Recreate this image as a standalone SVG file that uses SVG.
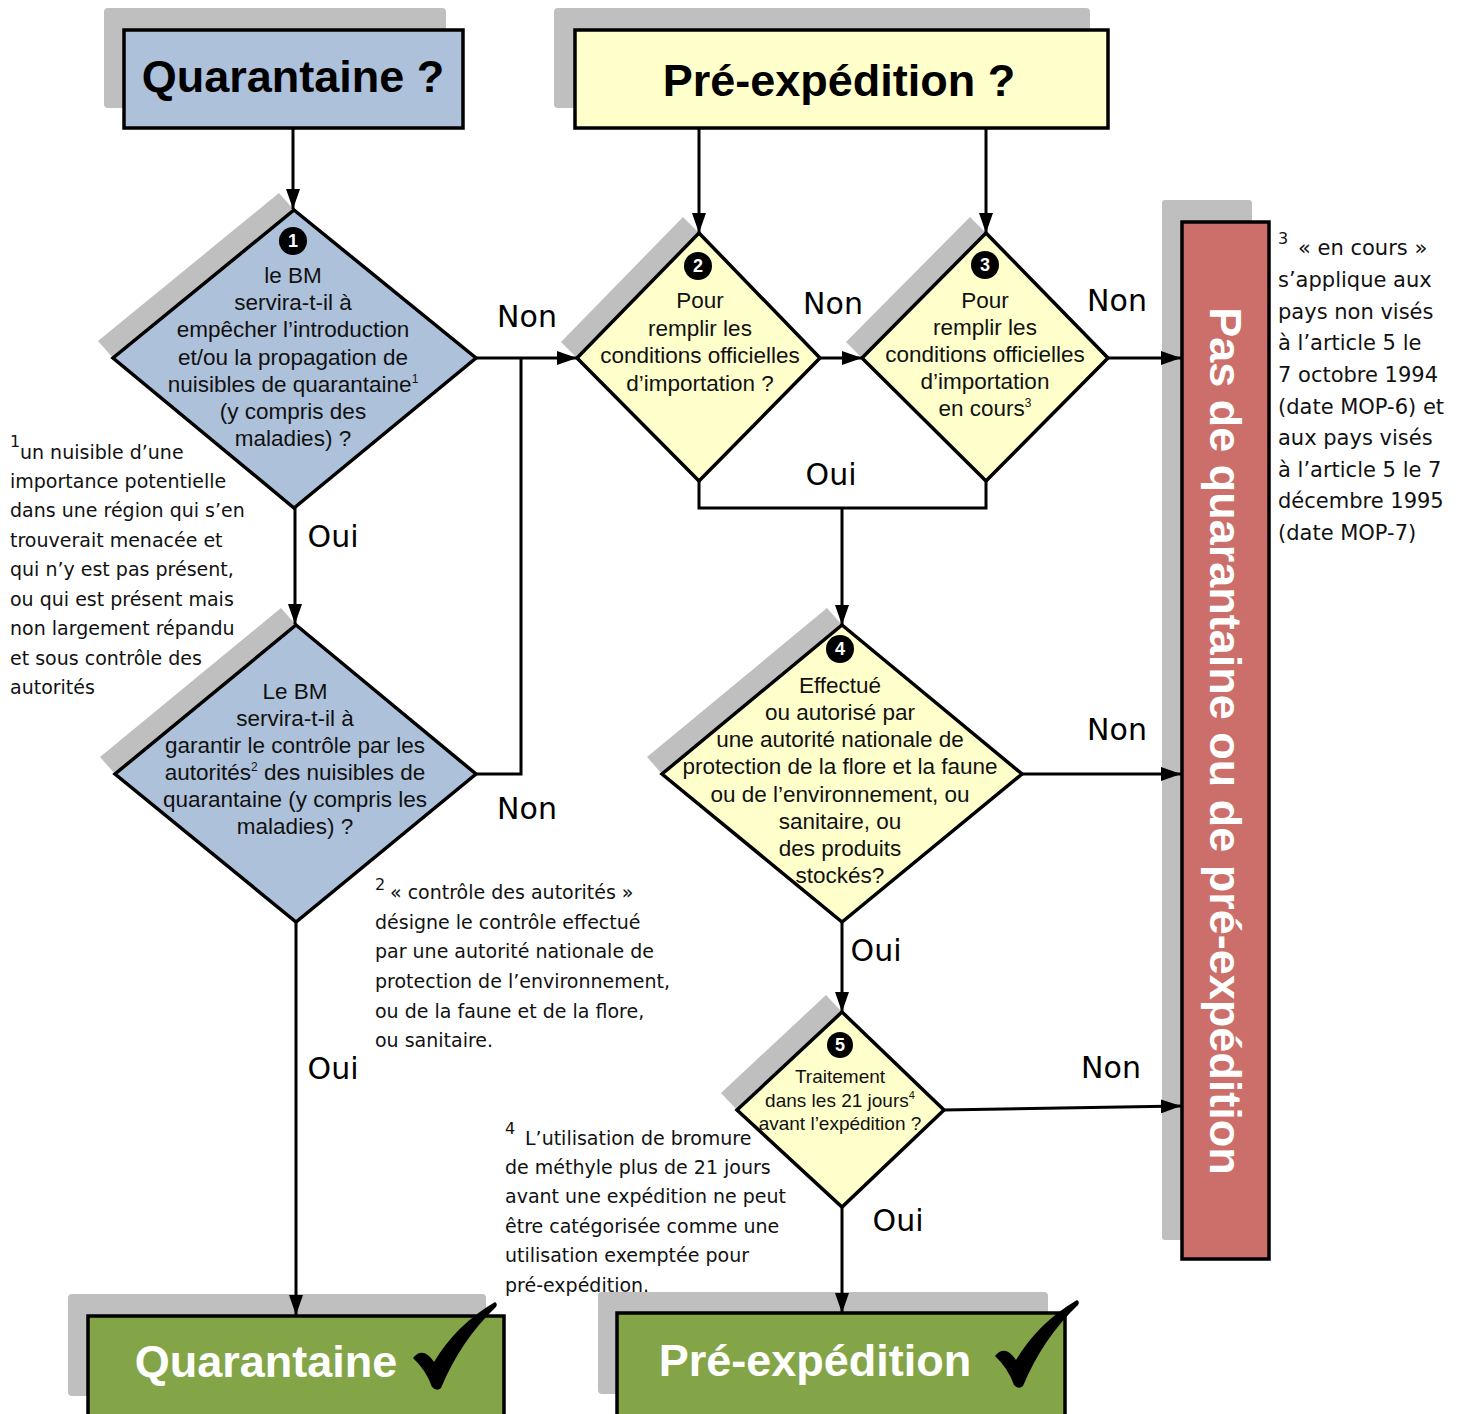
<svg xmlns="http://www.w3.org/2000/svg" width="1464" height="1414" viewBox="0 0 1464 1414">
<defs>
<style>
.sh{fill:#bfbfbf}
.blue{fill:#adc1da;stroke:#000;stroke-width:3.5}
.yel{fill:#ffffcc;stroke:#000;stroke-width:3.5}
.grn{fill:#84a547;stroke:#000;stroke-width:3.5}
.red{fill:#cc6f6a;stroke:#000;stroke-width:3.5}
.dt{font-family:"Liberation Sans",Arial,sans-serif;font-size:22.5px;fill:#111;text-anchor:middle}
.dt5{font-family:"Liberation Sans",Arial,sans-serif;font-size:19px;fill:#111;text-anchor:middle}
.title{font-family:"Liberation Sans",Arial,sans-serif;font-size:45px;font-weight:bold;text-anchor:middle}
.lbl{font-family:"DejaVu Sans",sans-serif;font-size:30px;fill:#000;text-anchor:middle}
.fn{font-family:"DejaVu Sans",sans-serif;font-size:19px;fill:#111}
.fn3{font-family:"DejaVu Sans",sans-serif;font-size:21px;fill:#111}
.sup{font-family:"DejaVu Sans",sans-serif;font-size:16px;fill:#111}
.num{font-family:"Liberation Sans",Arial,sans-serif;font-size:18px;font-weight:bold;fill:#fff;text-anchor:middle}
.con{fill:none;stroke:#000;stroke-width:3}
</style>
<marker id="ah" markerUnits="userSpaceOnUse" markerWidth="22" markerHeight="14" refX="20" refY="7" orient="auto">
<path d="M0,0 L20,7 L0,14 z" fill="#000"/>
</marker>
<path id="check" d="M0,0 Q10,-12 21,4 Q43,-33 82,-56 Q85,-54 83,-51 Q48,-18 28,30 Q24,34 19,29 Q13,12 0,0 Z" fill="#000"/>
</defs>

<g id="n-quarantaine-q">
<rect class="sh" x="104" y="8" width="342" height="100" rx="4"/>
<rect class="blue" x="124" y="30" width="339" height="98"/>
<text class="title" x="293" y="92" fill="#000">Quarantaine ?</text>
</g>

<g id="n-preexp-q">
<rect class="sh" x="554" y="8" width="536" height="100" rx="4"/>
<rect class="yel" x="575" y="30" width="533" height="98"/>
<text class="title" x="839" y="96" fill="#000">Pré-expédition ?</text>
</g>

<g id="n-d1">
<polygon class="sh" points="113,358 294,210 279,193 98,341"/>
<polygon class="blue" points="294,210 476,358 294,508 113,358"/>
<circle cx="293" cy="241" r="14" fill="#000"/>
<text class="num" x="293" y="247">1</text>
<text class="dt" x="293" y="283">le BM</text>
<text class="dt" x="293" y="310">servira-t-il à</text>
<text class="dt" x="293" y="337">empêcher l’introduction</text>
<text class="dt" x="293" y="365">et/ou la propagation de</text>
<text class="dt" x="293" y="392">nuisibles de quarantaine<tspan font-size="12" dy="-9">1</tspan></text>
<text class="dt" x="293" y="419">(y compris des</text>
<text class="dt" x="293" y="446">maladies) ?</text>
</g>

<g id="n-d2">
<polygon class="sh" points="115,774 296,625 281,608 100,757"/>
<polygon class="blue" points="296,625 476,774 296,922 115,774"/>
<text class="dt" x="295" y="699">Le BM</text>
<text class="dt" x="295" y="726">servira-t-il à</text>
<text class="dt" x="295" y="753">garantir le contrôle par les</text>
<text class="dt" x="295" y="780">autorités<tspan font-size="12" dy="-9">2</tspan><tspan dy="9"> des nuisibles de</tspan></text>
<text class="dt" x="295" y="807">quarantaine (y compris les</text>
<text class="dt" x="295" y="834">maladies) ?</text>
</g>

<g id="n-p2">
<polygon class="sh" points="577,358 699,233 683,217 561,342"/>
<polygon class="yel" points="699,233 820,358 699,481 577,358"/>
<circle cx="698" cy="266" r="14" fill="#000"/>
<text class="num" x="698" y="272">2</text>
<text class="dt" x="700" y="308">Pour</text>
<text class="dt" x="700" y="336">remplir les</text>
<text class="dt" x="700" y="363">conditions officielles</text>
<text class="dt" x="700" y="391">d’importation ?</text>
</g>

<g id="n-p3">
<polygon class="sh" points="862,358 986,233 970,217 846,342"/>
<polygon class="yel" points="986,233 1108,358 986,481 862,358"/>
<circle cx="985" cy="265" r="14" fill="#000"/>
<text class="num" x="985" y="271">3</text>
<text class="dt" x="985" y="308">Pour</text>
<text class="dt" x="985" y="335">remplir les</text>
<text class="dt" x="985" y="362">conditions officielles</text>
<text class="dt" x="985" y="389">d’importation</text>
<text class="dt" x="985" y="416">en cours<tspan font-size="12" dy="-9">3</tspan></text>
</g>

<g id="n-d4">
<polygon class="sh" points="662,774 842,625 827,608 647,757"/>
<polygon class="yel" points="842,625 1022,774 842,922 662,774"/>
<circle cx="840" cy="649" r="14" fill="#000"/>
<text class="num" x="840" y="655">4</text>
<text class="dt" x="840" y="693">Effectué</text>
<text class="dt" x="840" y="720">ou autorisé par</text>
<text class="dt" x="840" y="747">une autorité nationale de</text>
<text class="dt" x="840" y="774">protection de la flore et la faune</text>
<text class="dt" x="840" y="802">ou de l’environnement, ou</text>
<text class="dt" x="840" y="829">sanitaire, ou</text>
<text class="dt" x="840" y="856">des produits</text>
<text class="dt" x="840" y="883">stockés?</text>
</g>

<g id="n-d5">
<polygon class="sh" points="737,1110 842,1012 826,995 721,1093"/>
<polygon class="yel" points="842,1012 944,1110 842,1207 737,1110"/>
<circle cx="840" cy="1045" r="13" fill="#000"/>
<text class="num" x="840" y="1051">5</text>
<text class="dt5" x="840" y="1083">Traitement</text>
<text class="dt5" x="840" y="1107">dans les 21 jours<tspan font-size="11" dy="-8">4</tspan></text>
<text class="dt5" x="840" y="1130">avant l’expédition ?</text>
</g>

<g id="n-pas">
<rect class="sh" x="1162" y="200" width="90" height="1040" rx="3"/>
<rect class="red" x="1182" y="222" width="87" height="1037"/>
<text class="title" transform="translate(1210,741) rotate(90)" x="0" y="0" fill="#fff">Pas de quarantaine ou de pré-expédition</text>
</g>

<g id="n-quarantaine-ok">
<rect class="sh" x="68" y="1294" width="418" height="102" rx="4"/>
<rect class="grn" x="88" y="1316" width="416" height="100"/>
<text class="title" x="266" y="1377" fill="#fff">Quarantaine</text>
<use href="#check" transform="translate(413,1358)"/>
</g>

<g id="n-preexp-ok">
<rect class="sh" x="598" y="1292" width="450" height="102" rx="4"/>
<rect class="grn" x="617" y="1313" width="448" height="103"/>
<text class="title" x="815" y="1376" fill="#fff">Pré-expédition</text>
<use href="#check" transform="translate(995,1356)"/>
</g>

<g id="connectors">
<line class="con" x1="293" y1="128" x2="293" y2="209" marker-end="url(#ah)"/>
<line class="con" x1="476" y1="358" x2="577" y2="358" marker-end="url(#ah)"/>
<polyline class="con" points="476,774 521,774 521,358"/>
<line class="con" x1="295" y1="508" x2="295" y2="624" marker-end="url(#ah)"/>
<line class="con" x1="296" y1="922" x2="296" y2="1315" marker-end="url(#ah)"/>
<line class="con" x1="699" y1="128" x2="699" y2="233" marker-end="url(#ah)"/>
<line class="con" x1="986" y1="128" x2="986" y2="233" marker-end="url(#ah)"/>
<line class="con" x1="820" y1="358" x2="862" y2="358" marker-end="url(#ah)"/>
<line class="con" x1="1108" y1="358" x2="1181" y2="358" marker-end="url(#ah)"/>
<polyline class="con" points="699,481 699,508 986,508 986,481"/>
<line class="con" x1="842" y1="508" x2="842" y2="625" marker-end="url(#ah)"/>
<line class="con" x1="1022" y1="774" x2="1181" y2="774" marker-end="url(#ah)"/>
<line class="con" x1="842" y1="922" x2="842" y2="1012" marker-end="url(#ah)"/>
<line class="con" x1="944" y1="1110" x2="1181" y2="1106" marker-end="url(#ah)"/>
<line class="con" x1="842" y1="1207" x2="842" y2="1313" marker-end="url(#ah)"/>
</g>

<g id="labels">
<text class="lbl" x="527" y="327">Non</text>
<text class="lbl" x="527" y="819">Non</text>
<text class="lbl" x="833" y="314">Non</text>
<text class="lbl" x="1117" y="311">Non</text>
<text class="lbl" x="1117" y="740">Non</text>
<text class="lbl" x="1111" y="1078">Non</text>
<text class="lbl" x="333" y="547">Oui</text>
<text class="lbl" x="831" y="485">Oui</text>
<text class="lbl" x="333" y="1079">Oui</text>
<text class="lbl" x="876" y="961">Oui</text>
<text class="lbl" x="898" y="1231">Oui</text>
</g>

<g id="footnotes">
<text class="sup" x="10" y="447">1</text>
<text class="fn" x="20" y="459">un nuisible d’une</text>
<text class="fn" x="10" y="488">importance potentielle</text>
<text class="fn" x="10" y="517">dans une région qui s’en</text>
<text class="fn" x="10" y="547">trouverait menacée et</text>
<text class="fn" x="10" y="576">qui n’y est pas présent,</text>
<text class="fn" x="10" y="606">ou qui est présent mais</text>
<text class="fn" x="10" y="635">non largement répandu</text>
<text class="fn" x="10" y="665">et sous contrôle des</text>
<text class="fn" x="10" y="694">autorités</text>

<text class="sup" x="375" y="890">2</text>
<text class="fn" x="390" y="899">« contrôle des autorités »</text>
<text class="fn" x="375" y="929">désigne le contrôle effectué</text>
<text class="fn" x="375" y="958">par une autorité nationale de</text>
<text class="fn" x="375" y="988">protection de l’environnement,</text>
<text class="fn" x="375" y="1018">ou de la faune et de la flore,</text>
<text class="fn" x="375" y="1047">ou sanitaire.</text>

<text class="sup" x="1278" y="244">3</text>
<text class="fn3" x="1298" y="255">« en cours »</text>
<text class="fn3" x="1278" y="287">s’applique aux</text>
<text class="fn3" x="1278" y="319">pays non visés</text>
<text class="fn3" x="1278" y="350">à l’article 5 le</text>
<text class="fn3" x="1278" y="382">7 octobre 1994</text>
<text class="fn3" x="1278" y="414">(date MOP-6) et</text>
<text class="fn3" x="1278" y="445">aux pays visés</text>
<text class="fn3" x="1278" y="477">à l’article 5 le 7</text>
<text class="fn3" x="1278" y="508">décembre 1995</text>
<text class="fn3" x="1278" y="540">(date MOP-7)</text>

<text class="sup" x="505" y="1134">4</text>
<text class="fn" x="525" y="1145">L’utilisation de bromure</text>
<text class="fn" x="505" y="1174">de méthyle plus de 21 jours</text>
<text class="fn" x="505" y="1203">avant une expédition ne peut</text>
<text class="fn" x="505" y="1233">être catégorisée comme une</text>
<text class="fn" x="505" y="1262">utilisation exemptée pour</text>
<text class="fn" x="505" y="1292">pré-expédition.</text>
</g>
</svg>
